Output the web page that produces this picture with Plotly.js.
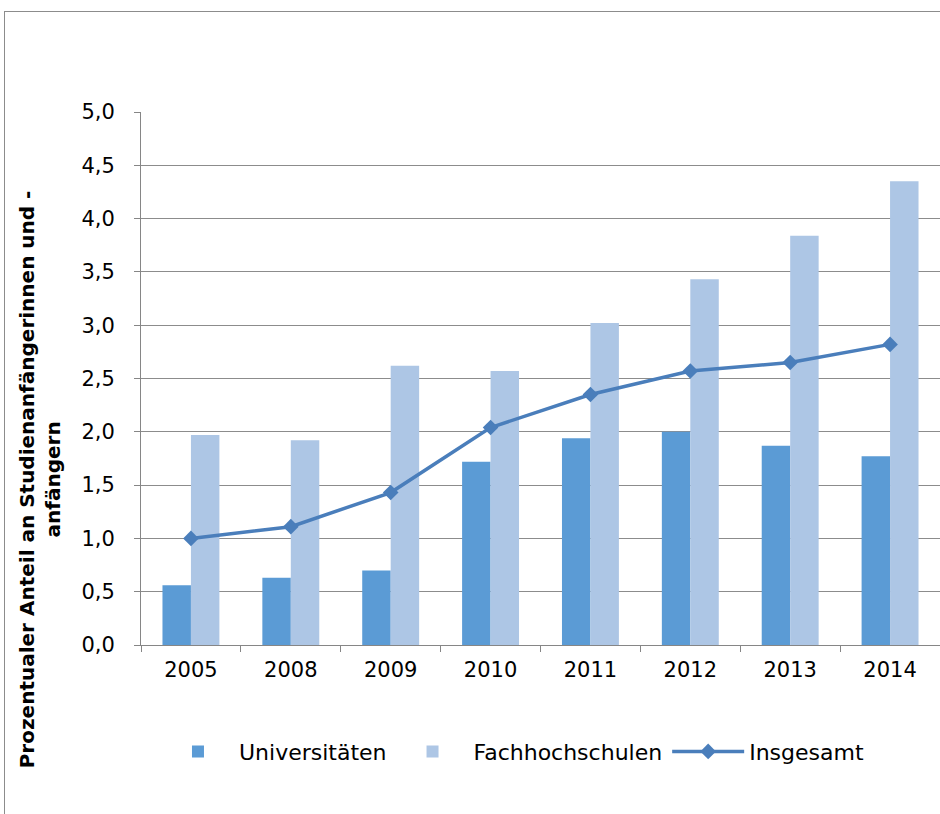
<!DOCTYPE html>
<html>
<head>
<meta charset="utf-8">
<script src="https://cdn.plot.ly/plotly-3.0.1.min.js"></script>
<style>
html,body{margin:0;padding:0;background:#fff;overflow:hidden;}
#frame{position:absolute;left:4px;top:11px;width:1000px;height:900px;border:1px solid #8c8c8c;box-sizing:border-box;}
#chart{position:absolute;left:0;top:0;width:940px;height:814px;}
</style>
</head>
<body>
<div id="frame"></div>
<div id="chart"></div>
<script>
const years = ["2005","2008","2009","2010","2011","2012","2013","2014"];
const universitaeten = [0.56, 0.63, 0.70, 1.72, 1.94, 2.00, 1.87, 1.77];
const fachhochschulen = [1.97, 1.92, 2.62, 2.57, 3.02, 3.43, 3.84, 4.35];
const insgesamt = [1.00, 1.11, 1.43, 2.04, 2.35, 2.57, 2.65, 2.82];
const seriesNames = ["Universitäten", "Fachhochschulen", "Insgesamt"];
const yTitle = "Prozentualer Anteil an Studienanfängerinnen und -<br>anfängern";

const font = "DejaVu Sans, sans-serif";
const traces = [
  {type:"bar", name:seriesNames[0], x:years, y:universitaeten, marker:{color:"#5b9bd5"}},
  {type:"bar", name:seriesNames[1], x:years, y:fachhochschulen, marker:{color:"#adc6e5"}},
  {type:"scatter", mode:"lines+markers", name:seriesNames[2], x:years, y:insgesamt,
   line:{color:"#4a7ebb", width:3.5}, marker:{symbol:"diamond", size:12, color:"#4a7ebb"}}
];
const layout = {
  width:940, height:814,
  paper_bgcolor:"rgba(0,0,0,0)", plot_bgcolor:"rgba(0,0,0,0)",
  margin:{l:141, r:0, t:112, b:169},
  barmode:"group", bargap:0.43, bargroupgap:0,
  separators:",.",
  font:{family:font, size:21, color:"#000"},
  showlegend:true,
  legend:{orientation:"h", x:0.02, xanchor:"left", y:-0.2, yanchor:"middle",
          font:{family:font, size:22, color:"#000"}, traceorder:"normal", itemwidth:72},
  xaxis:{type:"category", showline:true, linecolor:"#868686", linewidth:1, ticks:"outside",
         tickson:"boundaries", ticklen:6, tickcolor:"#868686", showgrid:false,
         tickfont:{family:font, size:21}, ticklabelstandoff:6},
  yaxis:{range:[0,5], dtick:0.5, tick0:0, tickformat:".1f", showline:true, linecolor:"#868686",
         linewidth:1, ticks:"outside", ticklen:6, tickcolor:"#868686", showgrid:true,
         gridcolor:"#8c8c8c", gridwidth:1, zeroline:false, tickfont:{family:font, size:21},
         ticklabelstandoff:15},
  annotations:[{text:yTitle, xref:"paper", yref:"paper", x:-0.127, y:0.31, xanchor:"center", yanchor:"middle",
                textangle:-90, showarrow:false, font:{family:font, size:20, color:"#000", weight:"bold"}}]
};
Plotly.newPlot("chart", traces, layout, {displayModeBar:false, staticPlot:true});
</script>
</body>
</html>
